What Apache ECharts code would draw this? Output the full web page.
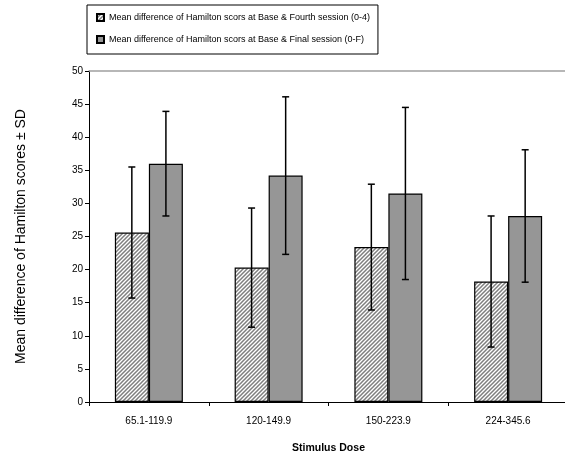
<!DOCTYPE html>
<html><head><meta charset="utf-8">
<script src="https://cdn.jsdelivr.net/npm/echarts@6/dist/echarts.min.js"></script>
<style>html,body{margin:0;padding:0;background:#fff}#c{width:565px;height:454px}</style>
</head><body><div id="c"></div>
<script>
const categories = ['65.1-119.9', '120-149.9', '150-223.9', '224-345.6'];
const seriesNames = [
  'Mean difference of Hamilton scors at Base & Fourth session (0-4)',
  'Mean difference of Hamilton scors at Base & Final session (0-F)'
];
const meanFourth = [25.6, 20.3, 23.4, 18.2];
const sdFourth = [9.9, 9.0, 9.5, 9.9];
const meanFinal = [36.0, 34.2, 31.5, 28.1];
const sdFinal = [7.9, 11.9, 13.0, 10.0];
const yTicks = [0, 5, 10, 15, 20, 25, 30, 35, 40, 45, 50];

const font = 'Liberation Sans, Arial';

function hatch() {
  const c = document.createElement('canvas');
  c.width = 4; c.height = 4;
  const g = c.getContext('2d');
  g.fillStyle = '#ffffff'; g.fillRect(0, 0, 4, 4);
  g.strokeStyle = '#7f7f7f'; g.lineWidth = 1.5;
  g.beginPath();
  g.moveTo(-1, 5); g.lineTo(5, -1);
  g.moveTo(-1, 1); g.lineTo(1, -1);
  g.moveTo(3, 5); g.lineTo(5, 3);
  g.stroke();
  return c;
}

const chart = echarts.init(document.getElementById('c'), null, {renderer: 'canvas'});
const BW = 34;

function errSeries(means, sds, offsetSign) {
  return {
    type: 'custom',
    silent: true,
    z: 10,
    data: means.map((m, i) => [i, m, sds[i]]),
    renderItem: function (params, api) {
      const i = api.value(0), m = api.value(1), sd = api.value(2);
      const band = api.size([1, 0])[0];
      const off = offsetSign * band * (17 / 119.5);
      const top = api.coord([i, m + sd]);
      const bot = api.coord([i, m - sd]);
      const x = top[0] + off;
      const cap = 3.5;
      const st = {stroke: '#000', lineWidth: 1.5};
      return {type: 'group', children: [
        {type: 'line', shape: {x1: x, y1: top[1], x2: x, y2: bot[1]}, style: st},
        {type: 'line', shape: {x1: x - cap, y1: top[1], x2: x + cap, y2: top[1]}, style: st},
        {type: 'line', shape: {x1: x - cap, y1: bot[1], x2: x + cap, y2: bot[1]}, style: st}
      ]};
    }
  };
}

chart.setOption({
  animation: false,
  backgroundColor: '#fff',
  textStyle: {fontFamily: font},
  legend: {
    left: 87, top: 5,
    orient: 'vertical',
    data: seriesNames,
    itemWidth: 7, itemHeight: 7,
    itemGap: 13,
    padding: [8, 8, 10, 9],
    borderColor: '#000', borderWidth: 1,
    textStyle: {fontFamily: font, fontSize: 9, color: '#000'},
    icon: 'rect'
  },
  grid: {left: 89, right: -3, top: 71, bottom: 52, containLabel: false, outerBoundsMode: 'none'},
  xAxis: [{
    type: 'category', data: categories,
    axisLine: {lineStyle: {color: '#000', width: 1}},
    axisTick: {show: true, length: 4, lineStyle: {color: '#000'}},
    axisLabel: {fontFamily: font, fontSize: 10, color: '#000', margin: 14},
    name: 'Stimulus Dose', nameLocation: 'middle', nameGap: 41,
    nameTextStyle: {fontFamily: font, fontSize: 10.5, fontWeight: 'bold', color: '#000'}
  }, {
    type: 'category', data: categories, position: 'top',
    axisLine: {lineStyle: {color: '#a0a0a0', width: 1.5}},
    axisTick: {show: false}, axisLabel: {show: false}
  }],
  yAxis: {
    type: 'value', min: yTicks[0], max: yTicks[yTicks.length - 1], interval: 5,
    axisLine: {show: true, lineStyle: {color: '#000'}},
    axisTick: {show: true, length: 4, lineStyle: {color: '#000'}},
    splitLine: {show: false},
    axisLabel: {fontFamily: font, fontSize: 10, color: '#000', margin: 6},
    name: 'Mean difference of Hamilton scores ± SD', nameLocation: 'middle', nameGap: 61,
    nameTextStyle: {fontFamily: font, fontSize: 14, color: '#000'}
  },
  series: [
    {name: seriesNames[0], type: 'bar', data: meanFourth, barWidth: BW, barGap: '0%',
     itemStyle: {color: {image: hatch(), repeat: 'repeat'}, borderColor: '#000', borderWidth: 1.2}},
    {name: seriesNames[1], type: 'bar', data: meanFinal, barWidth: BW, barGap: '0%',
     itemStyle: {color: '#969696', borderColor: '#000', borderWidth: 1.2}},
    errSeries(meanFourth, sdFourth, -1),
    errSeries(meanFinal, sdFinal, 1)
  ]
});
</script></body></html>
